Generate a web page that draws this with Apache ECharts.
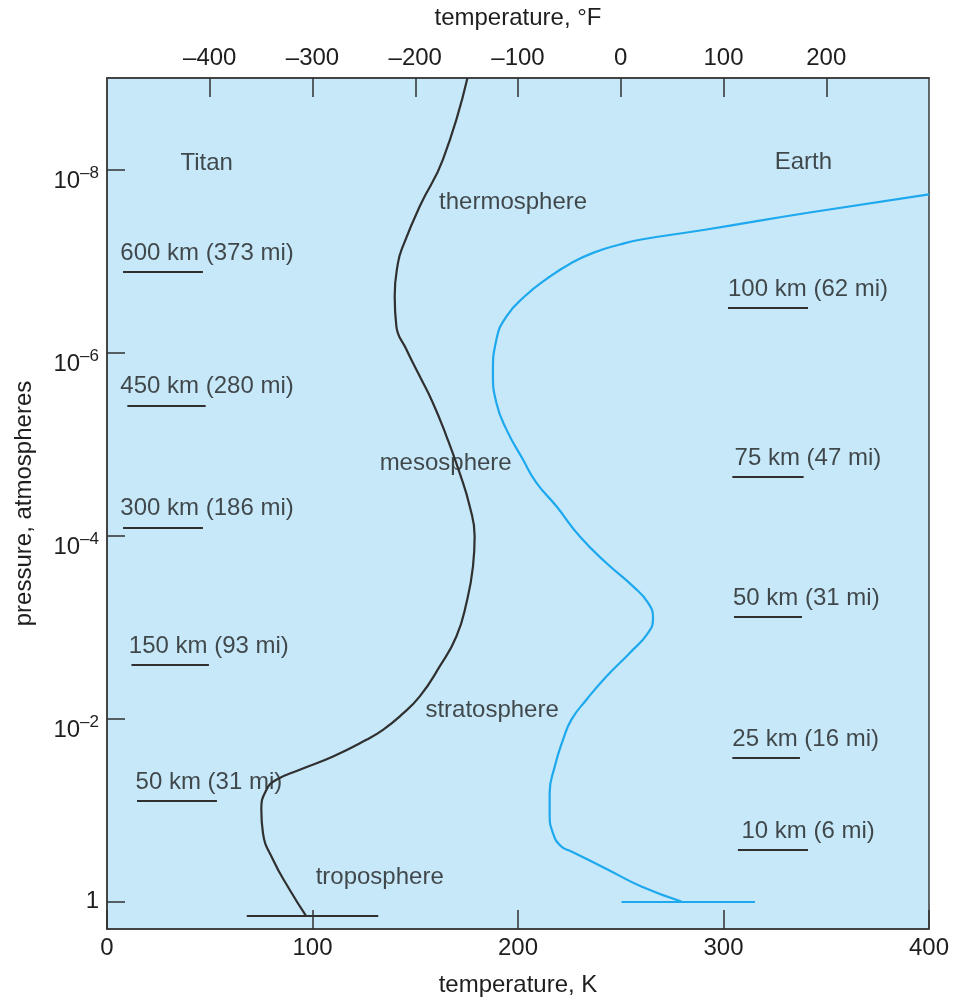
<!DOCTYPE html>
<html><head><meta charset="utf-8">
<script src="https://cdn.jsdelivr.net/npm/echarts@6/dist/echarts.min.js"></script>
<style>html,body{margin:0;padding:0;background:#fff}#c{width:955px;height:1002px}</style>
</head><body><div id="c"></div>
<script>
// ---- data (temperature in K, pressure in atm) ----
const titanTempK = [175.4,163.5,152.2,144.0,141.6,140.0,140.8,145.7,152.2,158.6,165.2,171.6,176.5,178.9,178.1,174.9,170.0,161.9,152.2,142.5,134.3,126.2,110.0,93.8,82.4,77.6,75.1,75.9,80.8,88.9,96.7];
const titanPressureAtm = [1.0e-9,7.76e-9,2.52e-8,6.89e-8,1.05e-7,2.43e-7,5.16e-7,9.29e-7,1.82e-6,3.56e-6,8.24e-6,2.07e-5,4.80e-5,1.02e-4,2.17e-4,5.46e-4,1.27e-3,2.70e-3,5.74e-3,9.48e-3,1.33e-2,1.71e-2,2.60e-2,3.63e-2,4.68e-2,6.01e-2,9.93e-2,0.179,0.350,0.745,1.42];
const earthTempK = [400,341.1,291.7,260.0,249.5,236.5,226.0,214.6,203.3,194.4,189.5,187.8,189.5,194.4,202.4,209.0,218.7,230.0,243.0,256.0,263.3,265.7,263.3,254.4,243.0,233.3,226.0,221.9,217.9,215.4,215.4,217.0,221.1,226.0,243.8,260.0,279.5];
const earthPressureAtm = [1.87e-8,2.97e-8,4.53e-8,5.82e-8,6.61e-8,8.15e-8,1.05e-7,1.53e-7,2.43e-7,4.02e-7,7.21e-7,1.67e-6,3.56e-6,6.97e-6,1.48e-5,2.66e-5,4.80e-5,1.02e-4,2.00e-4,3.60e-4,5.46e-4,7.96e-4,1.16e-3,1.92e-3,3.47e-3,6.24e-3,1.03e-2,1.71e-2,3.34e-2,6.53e-2,0.108,0.179,0.251,0.284,0.450,0.685,1.0];
// surface markers
const titanSurfacePressure = 1.42, titanSurfaceRangeK = [68, 132];
const earthSurfacePressure = 1.0,  earthSurfaceRangeK = [250.4, 315.3];
// altitude markers
const titanAltKm = [600,450,300,150,50];
const titanAltMi = [373,280,186,93,31];
const titanAltPressure = [1.31e-7,3.78e-6,8.15e-5,2.60e-3,7.98e-2];
const earthAltKm = [100,75,50,25,10];
const earthAltMi = [62,47,31,16,6];
const earthAltPressure = [3.25e-7,2.31e-5,7.66e-4,2.67e-2,0.270];
// axis ticks
const kTicks = [0,100,200,300,400];
const fTicks = [-400,-300,-200,-100,0,100,200];
const pressureTickExp = [-8,-6,-4,-2,0];

// ---- layout (not data) ----
const titanSegK = [[7.8,46.7],[9.9,48.0],[7.8,46.7],[11.9,49.6],[14.6,53.5]];
const titanTextK = [6.5,6.5,6.5,10.6,13.9];
const earthSegK = [[302.2,341.1],[304.3,339.0],[305.1,338.2],[304.3,337.2],[307.0,341.1]];
const earthTextK = [302.2,305.4,304.6,304.3,308.7];
const regionLabels = [
  {t:'Titan', k:48.5, e:-7.982},
  {t:'Earth', k:338.9, e:-7.993},
  {t:'thermosphere', k:197.6, e:-7.563},
  {t:'mesosphere', k:164.8, e:-4.701},
  {t:'stratosphere', k:187.4, e:-2.005},
  {t:'troposphere', k:132.7, e:-0.183}
];

const L = Math.log10;
const FONT = "'Liberation Sans', Arial, sans-serif";
const TXT = '#1e1e1e';
const DARK = '#303030';
const BLUE = '#1ea8ee';

const titanData = titanTempK.map((k,i)=>[k, L(titanPressureAtm[i])]);
const earthData = earthTempK.map((k,i)=>[k, L(earthPressureAtm[i])]);

const segLines = [];
titanAltPressure.forEach((p,i)=>segLines.push([{coord:[titanSegK[i][0], L(p)]},{coord:[titanSegK[i][1], L(p)]}]));
earthAltPressure.forEach((p,i)=>segLines.push([{coord:[earthSegK[i][0], L(p)]},{coord:[earthSegK[i][1], L(p)]}]));
segLines.push([{coord:[titanSurfaceRangeK[0], L(titanSurfacePressure)]},{coord:[titanSurfaceRangeK[1], L(titanSurfacePressure)]}]);

const altLabelData = [];
titanAltKm.forEach((km,i)=>altLabelData.push({name: km+' km ('+titanAltMi[i]+' mi)', value:[titanTextK[i], L(titanAltPressure[i])]}));
earthAltKm.forEach((km,i)=>altLabelData.push({name: km+' km ('+earthAltMi[i]+' mi)', value:[earthTextK[i], L(earthAltPressure[i])]}));

const regionData = regionLabels.map(r=>({name:r.t, value:[r.k, r.e]}));

const chart = echarts.init(document.getElementById('c'), null, {renderer:'canvas'});
const axisText = {color: TXT, fontFamily: FONT, fontSize: 24};
chart.setOption({
  animation:false,
  textStyle:{fontFamily:FONT},
  grid:{left:107, right:26, top:78, bottom:73, show:true, backgroundColor:'#c6e8f8', borderColor:'#3a3a3a', borderWidth:1.5},
  xAxis:[
    {type:'value', position:'bottom', min:0, max:400, interval:100,
     name:'temperature, K', nameLocation:'middle', nameGap:44, nameTextStyle:axisText,
     axisLine:{show:true, onZero:false, lineStyle:{color:'#3a3a3a', width:1.5}},
     axisTick:{show:true, inside:true, length:19, lineStyle:{color:DARK, width:1.5}},
     axisLabel:Object.assign({margin:7, formatter:v=>kTicks.includes(v)?String(v):''}, axisText),
     splitLine:{show:false}},
    {type:'value', position:'top', min:-500, max:300, interval:100,
     name:'temperature, °F', nameLocation:'middle', nameGap:48, nameTextStyle:axisText,
     axisLine:{show:true, onZero:false, lineStyle:{color:'#3a3a3a', width:1.5}},
     axisTick:{show:true, inside:true, length:19, lineStyle:{color:DARK, width:1.5}},
     axisLabel:Object.assign({margin:8, showMinLabel:false, showMaxLabel:false,
        formatter:v=>fTicks.includes(v)?(v<0?'–'+(-v):String(v)):''}, axisText),
     splitLine:{show:false}}
  ],
  yAxis:{type:'value', min:-9, max:L(2), inverse:true,
     name:'pressure, atmospheres', nameLocation:'middle', nameRotate:90, nameGap:71, nameTextStyle:axisText,
     axisLine:{show:true, onZero:false, lineStyle:{color:'#3a3a3a', width:1.5}},
     axisTick:{show:true, inside:true, length:18, customValues:pressureTickExp, lineStyle:{color:DARK, width:1.5}},
     axisLabel:{margin:8, customValues:pressureTickExp, color:TXT, fontFamily:FONT,
       formatter:v=>v===0?'{c|1}':'{b|10}{s|–'+(-v)+'}',
       rich:{
         b:{fontSize:24, lineHeight:24, padding:[12,0,0,0], verticalAlign:'top', color:TXT, fontFamily:FONT},
         s:{fontSize:17, lineHeight:17, padding:[7,0,0,0], verticalAlign:'top', color:TXT, fontFamily:FONT},
         c:{fontSize:24, lineHeight:24, color:TXT, fontFamily:FONT}
       }},
     splitLine:{show:false}},
  series:[
    {type:'line', name:'Titan', data:titanData, showSymbol:false, smooth:0.5,
     lineStyle:{color:DARK, width:2.2}, silent:true,
     markLine:{silent:true, symbol:['none','none'], label:{show:false},
       lineStyle:{color:DARK, width:2, type:'solid'}, data:segLines}},
    {type:'line', name:'Earth', data:earthData, showSymbol:false, smooth:0.5,
     lineStyle:{color:BLUE, width:2.2}, silent:true,
     markLine:{silent:true, symbol:['none','none'], label:{show:false},
       lineStyle:{color:BLUE, width:2.2, type:'solid'},
       data:[[{coord:[earthSurfaceRangeK[0], L(earthSurfacePressure)]},{coord:[earthSurfaceRangeK[1], L(earthSurfacePressure)]}]]}},
    {type:'scatter', data:altLabelData, symbolSize:1, itemStyle:{color:'rgba(0,0,0,0)'}, silent:true,
     label:{show:true, position:'inside', formatter:'{b}', align:'left', verticalAlign:'middle', offset:[0,-18.5],
       color:TXT, fontSize:24, fontFamily:FONT}},
    {type:'scatter', data:regionData, symbolSize:1, itemStyle:{color:'rgba(0,0,0,0)'}, silent:true,
     label:{show:true, position:'inside', formatter:'{b}', align:'center', verticalAlign:'middle', offset:[0,-7.5],
       color:TXT, fontSize:24, fontFamily:FONT}}
  ]
});
</script></body></html>
